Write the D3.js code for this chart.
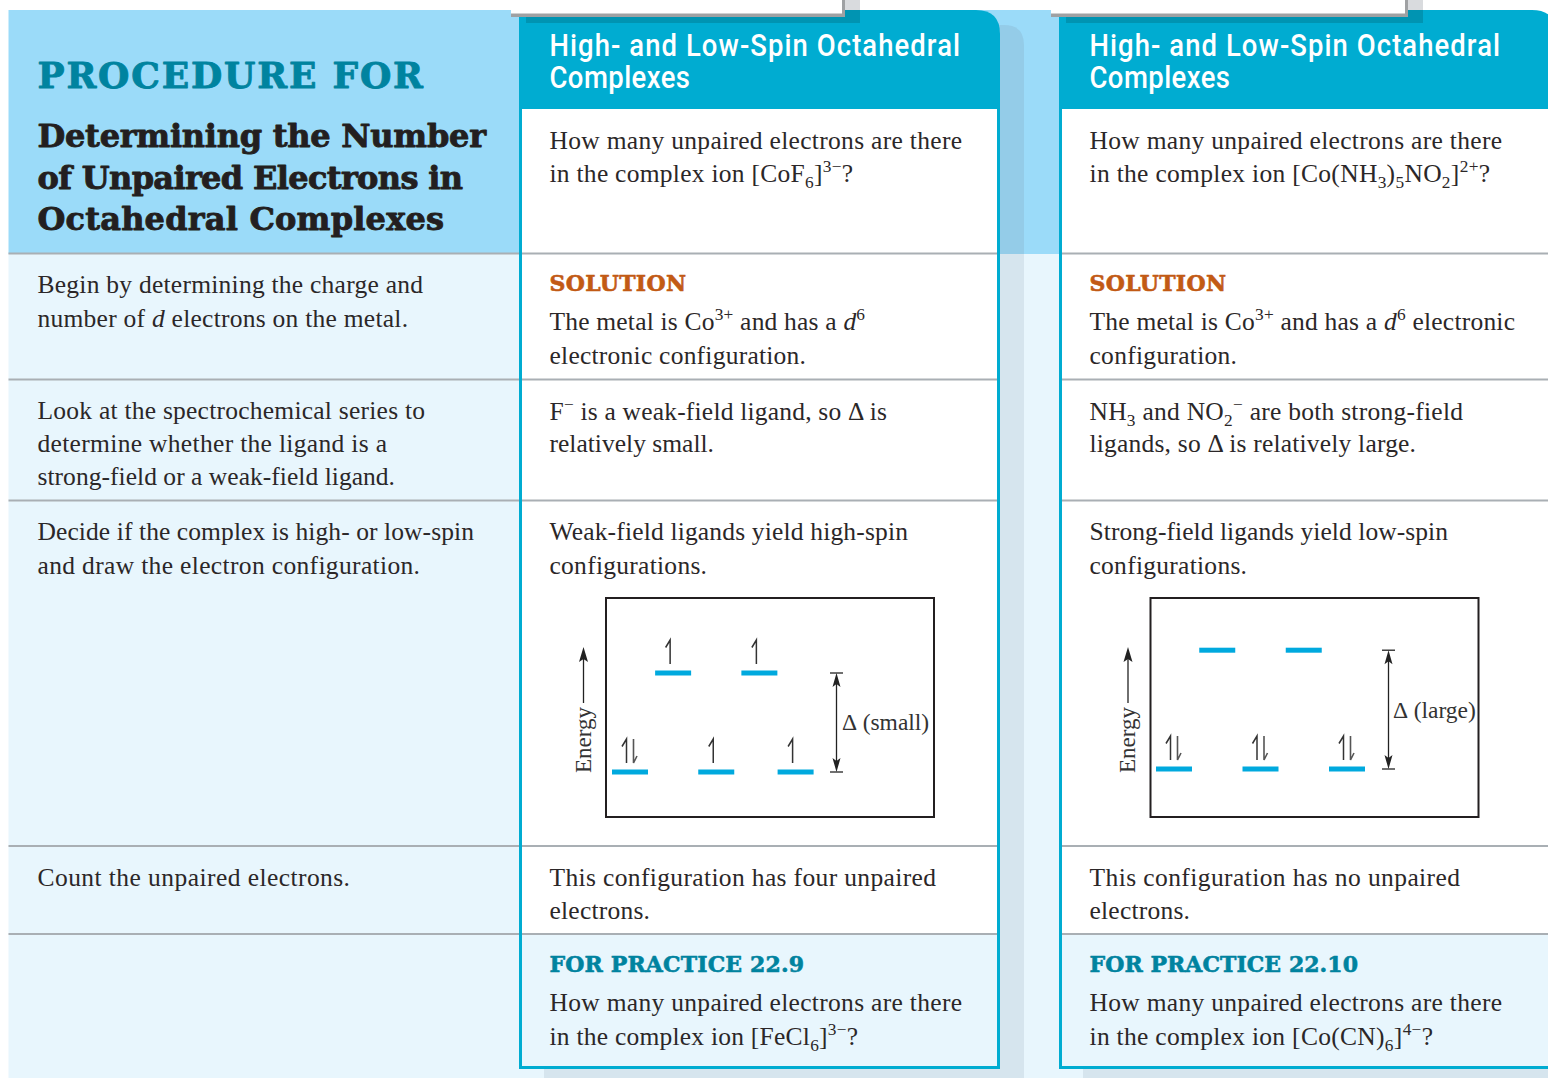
<!DOCTYPE html>
<html><head><meta charset="utf-8">
<script src="https://cdn.jsdelivr.net/npm/d3@7/dist/d3.min.js"></script>
<style>html,body{margin:0;padding:0;background:#fff;overflow:hidden}svg{display:block}</style>
</head><body><div id="chart"></div>
<script>
// ---- content ----
const procedureKicker = "PROCEDURE FOR";
const procedureTitle = ["Determining the Number","of Unpaired Electrons in","Octahedral Complexes"];
const cardTitle = ["High- and Low-Spin Octahedral","Complexes"];
const procedureSteps = ["Begin by determining the charge and","number of *d* electrons on the metal.",
  "Look at the spectrochemical series to","determine whether the ligand is a","strong-field or a weak-field ligand.",
  "Decide if the complex is high- or low-spin","and draw the electron configuration.",
  "Count the unpaired electrons."];
const weakCardLines = ["How many unpaired electrons are there","in the complex ion [CoF_{6}]^{3−}?",
  "SOLUTION","The metal is Co^{3+} and has a *d*^{6}","electronic configuration.",
  "F^{−} is a weak-field ligand, so Δ is","relatively small.",
  "Weak-field ligands yield high-spin","configurations.",
  "This configuration has four unpaired","electrons.",
  "FOR PRACTICE 22.9","How many unpaired electrons are there","in the complex ion [FeCl_{6}]^{3−}?"];
const strongCardLines = ["How many unpaired electrons are there","in the complex ion [Co(NH_{3})_{5}NO_{2}]^{2+}?",
  "SOLUTION","The metal is Co^{3+} and has a *d*^{6} electronic","configuration.",
  "NH_{3} and NO_{2}^{−} are both strong-field","ligands, so Δ is relatively large.",
  "Strong-field ligands yield low-spin","configurations.",
  "This configuration has no unpaired","electrons.",
  "FOR PRACTICE 22.10","How many unpaired electrons are there","in the complex ion [Co(CN)_{6}]^{4−}?"];
// orbital slots and electron counts per orbital; energies in units of the small splitting
const weakLowerSlots = [0,1,1.92];
const weakUpperSlots = [0.5,1.5];
const weakLowerElectrons = [2,1,1];
const weakUpperElectrons = [1,1];
const weakEnergies = [0,1];
const strongLowerSlots = [0,1,2];
const strongUpperSlots = [0.5,1.5];
const strongLowerElectrons = [2,2,2];
const strongUpperElectrons = [0,0];
const strongEnergies = [0,1.2];
const energyLabel = "Energy";
const weakDeltaLabel = "(small)";
const strongDeltaLabel = "(large)";

// ---- palette ----
const C = {panel:"#9bdbf9", pale:"#e8f6fd", shadow:"#d6e5ee", shadowTop:"#94cce8", teal:"#00acd1",
  tealDark:"#0094b2", rule:"#a9afb4", ink:"#2b2728", kicker:"#00839f", sol:"#c25a14", bar:"#00a9de", tabGray:"#d9dbde", tabLine:"#9fa1a3"};
const SERIF = "'Liberation Serif', serif", SLAB = "'DejaVu Serif', serif", SANS = "Roboto, sans-serif";

const svg = d3.select("#chart").append("svg").attr("width",1548).attr("height",1078);
const rect=(x0,y0,x1,y1,f)=>svg.append("rect").attr("x",x0).attr("y",y0).attr("width",x1-x0).attr("height",y1-y0).attr("fill",f);

// backgrounds
rect(8.5,254,1083,1078,C.pale);
rect(544,1060,1024,1078,C.shadow);
rect(1000,254,1024,1078,C.shadow);
rect(1083,1060,1548,1078,C.shadow);
rect(8.5,10,1060,254,C.panel);
svg.append("path").attr("d","M994,25 H1004 Q1024,25 1024,45 V254 H994Z").attr("fill",C.shadowTop);

function card(x0,x1,r){
  rect(x0,109,Math.min(x1,1548),934,"#fff");
  rect(x0,934,Math.min(x1,1548),1067.5,C.pale);
  svg.append("path").attr("d",`M${x0-1},10 H${x1-r} Q${x1},10 ${x1},${10+r} V109 H${x0-1}Z`).attr("fill",C.teal);
}
card(520,1000,24);
card(1060,1556,24);

// notched tabs
function tab(x0,x1){
  rect(x1,0,x1+16,10,C.tabGray);
  rect(x0+15,10,x1+16,23,C.tealDark);
  rect(x0,0,x1,14,"#fff");
  rect(x0,13.5,x1+1,17,C.tabLine);
  rect(x1-2,0,x1+1,17,C.tabLine);
}
tab(511,844);
tab(1051,1407);

// horizontal rules
[253.5,379.5,500.5,846,934].forEach(y=>{
  rect(8.5,y-1,997,y+1,C.rule);
  rect(1061,y-1,1548,y+1,C.rule);
});
// card outlines
function outline(x0,x1){
  rect(x0-1,109,x0+2,1069,C.teal);
  if(x1<1548) rect(x1-3,109,x1,1069,C.teal);
  rect(x0-1,1066,Math.min(x1,1548),1069,C.teal);
}
outline(520,1000);
outline(1060,1600);

// rich text: _{sub} ^{sup} *italic*
function rich(sel,str,size){
  const parts=str.split(/(_\{[^}]*\}|\^\{[^}]*\}|\*[^*]*\*)/).filter(s=>s);
  let off=0;
  parts.forEach(p=>{
    let t=p,target=0,fs=size,style=null;
    if(p[0]=="_"&&p[1]=="{"){t=p.slice(2,-1);target=size*0.24;fs=size*0.68;}
    else if(p[0]=="^"&&p[1]=="{"){t=p.slice(2,-1);target=-size*0.36;fs=size*0.68;}
    else if(p[0]=="*"){t=p.slice(1,-1);style="italic";}
    const ts=sel.append("tspan").text(t).attr("dy",target-off).attr("font-size",fs);
    if(style)ts.attr("font-style",style);
    off=target;
  });
}
function fitted(str,x,y,endX,opt){
  const o=Object.assign({font:SERIF,size:25.5,fill:C.ink,weight:"normal",sx:1,heavy:0},opt||{});
  const t=svg.append("text").attr("transform",`translate(${x},${y}) scale(${o.sx},1)`).attr("font-family",o.font).attr("font-weight",o.weight)
    .attr("font-size",o.size).attr("fill",o.fill).style("white-space","pre");
  if(o.heavy) t.attr("stroke",o.fill).attr("stroke-width",o.heavy).attr("stroke-linejoin","round");
  rich(t,str,o.size);
  const n=t.text().length;
  const len=t.node().getComputedTextLength();
  t.style("letter-spacing",(((endX-x)/o.sx-len)/(n-1))+"px");
  return t;
}

// left column
const LX=37.5;
fitted(procedureKicker,LX,87.5,423,{font:SLAB,weight:"bold",size:36,fill:C.kicker,heavy:0.9});
[[147,486],[188.5,463],[230,444]].forEach((l,i)=>fitted(procedureTitle[i],LX,l[0],l[1],{font:SLAB,weight:"bold",size:32,fill:"#231f20",heavy:0.9}));
[[292.5,423],[326.5,408],[418.5,425],[451.5,387],[484.5,395],[539.5,474],[573.5,420],[885.5,350]].forEach((l,i)=>fitted(procedureSteps[i],LX,l[0],l[1]));

// cards
const rowY=[148.5,181.5,291,329.5,363.5,419.5,451.5,539.5,573.5,885.5,918.5,972,1010.5,1044.5];
function cardText(lines,x,ends,titleEnds){
  cardTitle.forEach((s,i)=>fitted(s,x,[55.5,88][i],titleEnds[i],{font:SANS,weight:500,size:30.5,fill:"#fff",sx:0.9}));
  lines.forEach((s,i)=>{
    if(s=="SOLUTION") fitted(s,x,rowY[i],ends[i],{font:SLAB,weight:"bold",size:22,fill:C.sol,heavy:0.6});
    else if(s.startsWith("FOR PRACTICE")) fitted(s,x,rowY[i],ends[i],{font:SLAB,weight:"bold",size:22,fill:C.kicker,heavy:0.6});
    else fitted(s,x,rowY[i],ends[i]);
  });
}
cardText(weakCardLines,549.5,[962,853,686,865,806,887,714,908,707,936,650,804,962,858],[960,690]);
cardText(strongCardLines,1089.5,[1502,1490,1226,1515,1237,1463,1416,1448,1247,1460,1190,1358,1502,1433],[1500,1230]);

// energy diagrams
function diagram(g){
  const x=d3.scaleLinear().domain([0,1]).range([g.x0,g.x0+g.step]);
  const y=d3.scaleLinear().domain([0,1]).range([g.base,g.base-99]);
  const barW=36, ink="#333";
  svg.append("rect").attr("x",g.box[0]).attr("y",598).attr("width",g.box[1]-g.box[0]).attr("height",219)
    .attr("fill","none").attr("stroke","#231f20").attr("stroke-width",2);
  const levels=[[g.lowerSlots,g.lowerE,g.energies[0]],[g.upperSlots,g.upperE,g.energies[1]]];
  levels.forEach(([slots,elec,en])=>{
    const yy=y(en);
    svg.append("g").selectAll("rect").data(slots).join("rect")
      .attr("x",d=>x(d)).attr("y",yy-2.5).attr("width",barW).attr("height",5).attr("fill",C.bar);
    slots.forEach((s,i)=>{
      const c=x(s)+barW/2, top=yy-33, bot=yy-9;
      if(elec[i]>=1){
        const ux=elec[i]==2?c-3.5:c-3;
        svg.append("path").attr("d",`M${ux},${bot} V${top} L${ux-4.5},${top+7.5}`).attr("fill","none").attr("stroke",ink).attr("stroke-width",1.5);
      }
      if(elec[i]==2){
        const dx=c+3.5;
        svg.append("path").attr("d",`M${dx},${top} V${bot} L${dx+3.5},${bot-7}`).attr("fill","none").attr("stroke","#555").attr("stroke-width",1.6);
      }
    });
  });
  // energy axis arrow
  const ax=g.box[0]-22.5;
  svg.append("line").attr("x1",ax).attr("x2",ax).attr("y1",703).attr("y2",655).attr("stroke","#222").attr("stroke-width",1.3);
  svg.append("path").attr("d",`M${ax},647 L${ax+4.5},662 L${ax},659 L${ax-4.5},662Z`).attr("fill","#222");
  svg.append("text").attr("transform",`translate(${ax+7},773) rotate(-90)`).attr("font-family",SERIF).attr("font-size",23).attr("fill",ink).text(energyLabel);
  // splitting arrow
  const dx=g.deltaX, y0=y(g.energies[0]), y1=y(g.energies[1]);
  svg.append("line").attr("x1",dx).attr("x2",dx).attr("y1",y0-8).attr("y2",y1+8).attr("stroke","#222").attr("stroke-width",1.3);
  [[y0,1],[y1,-1]].forEach(([v,sgn])=>{
    svg.append("line").attr("x1",dx-6.5).attr("x2",dx+6.5).attr("y1",v).attr("y2",v).attr("stroke","#222").attr("stroke-width",1.3);
    svg.append("path").attr("d",`M${dx},${v} L${dx+4},${v-sgn*14} L${dx},${v-sgn*11} L${dx-4},${v-sgn*14}Z`).attr("fill","#222");
  });
  const lab=svg.append("text").attr("x",g.labelX).attr("y",g.labelY).attr("font-family",SERIF).attr("font-size",23.5).attr("fill",ink);
  lab.append("tspan").text("Δ");
  lab.append("tspan").attr("dx",5.5).text(g.label);
}
diagram({box:[606,934],x0:612,step:86.25,base:772,energies:weakEnergies,lowerSlots:weakLowerSlots,upperSlots:weakUpperSlots,lowerE:weakLowerElectrons,upperE:weakUpperElectrons,deltaX:836.5,labelX:842,labelY:729.5,label:weakDeltaLabel});
diagram({box:[1150.5,1478.5],x0:1156,step:86.5,base:769,energies:strongEnergies,lowerSlots:strongLowerSlots,upperSlots:strongUpperSlots,lowerE:strongLowerElectrons,upperE:strongUpperElectrons,deltaX:1388.5,labelX:1393,labelY:717.5,label:strongDeltaLabel});
</script></body></html>
